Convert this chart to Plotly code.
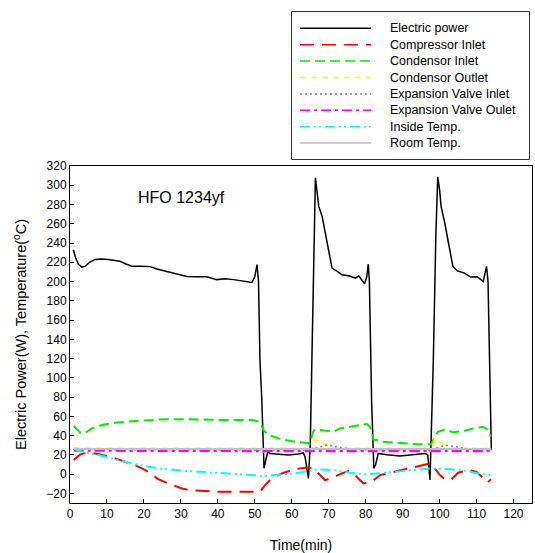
import plotly.graph_objects as go

# ---------------- data ----------------
power_t = [0.9, 1.5, 2.3, 3.2, 4.2, 5.3, 6.8, 8.5, 10.4, 12.0, 13.5, 15.0, 16.7, 19.0, 21.7,
           23.5, 25.5, 27.5, 29.5, 31.6, 34.0, 37.0, 39.7, 42.0, 44.3, 46.0, 47.5, 49.2, 50.0,
           50.6, 51.0, 51.4, 51.9, 52.5, 53.0, 53.5, 54.1, 56.4, 59.1, 61.8, 63.1, 63.6, 64.5,
           65.0, 65.4, 66.0, 66.4, 66.8, 67.3, 68.2, 69.6, 70.9, 72.3, 73.6, 75.4, 77.2, 78.1,
           79.0, 79.7, 80.3, 80.7, 81.0, 81.3, 81.6, 82.2, 82.7, 83.4, 85.7, 89.3, 92.9, 96.0,
           96.8, 97.4, 98.0, 98.3, 99.0, 99.5, 100.0, 100.4, 101.3, 102.5, 103.6, 104.8, 106.6,
           108.4, 110.2, 111.8, 112.4, 112.7, 113.1, 113.6, 114.0]
power_w = [233, 225, 218, 215, 216, 220, 223, 223.5, 223, 222, 221, 218.5, 216, 216, 215.5,
           213, 211, 209, 207, 205.3, 205, 205, 202, 203, 202, 201, 200.5, 199, 205,
           217.5, 200, 118, 77, 6, 15, 23, 21.5, 20.5, 19.8, 20.8, 22, 18, -4.5,
           30, 118, 250, 307.7, 295, 278, 268, 240, 214, 210.5, 207, 206, 203.6, 206,
           202, 197.7, 205, 218, 200, 140, 77, 6, 10, 21.5, 20, 18.7, 20, 21.5,
           20, -6, 77, 118, 250, 308.7, 295, 278, 262.6, 236.5, 215.7, 211, 209,
           204.6, 205, 200, 210, 215.7, 200, 100, 25]

comp_in_t = [1.0, 2.8, 5.0, 7.7, 12.2, 17.6, 20.4, 23.9, 26.6, 30.3, 32.5, 35.7, 40.2, 49.2,
             51.4, 52.8, 54.6, 57.3, 60.0, 62.2, 64.0, 65.8, 66.8, 69.0, 71.2, 73.5, 75.3,
             77.1, 79.4, 81.6, 83.9, 86.6, 89.3, 92.0, 94.2, 96.0, 97.4, 98.7, 100.1, 101.4,
             103.2, 105.0, 107.7, 110.0, 111.8, 113.0, 113.9]
comp_in_v = [14.6, 20.5, 22.6, 20.8, 16.3, 9.4, 4.2, -5.2, -9.7, -14.9, -16.6, -17.3, -18.4, -18.4,
             -18.4, -11.4, -4.5, 0.7, 4.2, 5.9, 6.9, 5.9, 2.4, -6.2, -3.5, 0.7, 3.1,
             -1, -9.7, -8, -1, 1.4, 3.5, 5.9, 7.6, 9.4, 11.1, 5.9, -1, -5.2,
             -5.5, 1.4, 4.2, 2.4, -4.5, -8.7, -5.2]

cond_in_t = [1.0, 2.8, 4.1, 5.9, 8.6, 12.2, 16.8, 21.2, 25.8, 32.5, 40.2, 49.2, 51.4, 52.3,
             53.7, 57.3, 60.9, 64.9, 65.8, 66.3, 67.6, 69.5, 71.2, 73.1, 76.6, 80.3, 81.2,
             82.1, 84.8, 89.3, 94.2, 97.8, 98.7, 99.6, 101.4, 103.7, 106.8, 109.1, 111.8,
             113.1, 113.9]
cond_in_v = [50, 43, 43, 47.5, 51, 53.4, 55, 56.2, 57, 57, 56.2, 56.2, 54.4, 45.8,
             40.6, 36.1, 33.6, 32, 44, 46.5, 46, 45, 44, 47.5, 50, 52, 49,
             36, 33.6, 32.6, 31, 31, 38.8, 44, 46.5, 43.4, 45, 47.5, 49.2,
             45.8, 39]

cond_out_t = [1.0, 10, 30, 50, 51.8, 52.3, 53, 64, 65.0, 65.6, 66.3, 67.7, 69.0, 70.8, 73,
              81, 82, 83, 96, 96.9, 97.8, 98.7, 100.1, 101.4, 103.2, 105, 114]
cond_out_v = [27, 26.5, 26.5, 26.5, 26.5, 24, 27, 26.5, 22, 26, 36, 33.6, 30.2, 27.4, 26.5,
              26.5, 24, 26.5, 26.5, 21.5, 26, 36, 32.6, 30.2, 27.4, 26.5, 26.5]

exv_in_t = [1.0, 51.5, 52.3, 53, 64.5, 65.2, 66.5, 69.5, 72.2, 75, 78, 81.5, 82.2, 83,
            97, 97.8, 99, 101.5, 104.5, 107, 110, 114]
exv_in_v = [25.5, 25, 23, 25, 25, 23, 27, 30.2, 28.4, 26.5, 25.5, 25, 23, 25,
            25, 23, 27, 30, 28.5, 26.5, 25.5, 25]

exv_out_t = [1.0, 30, 60, 90, 114]
exv_out_v = [24.5, 24, 24, 24, 24]

inside_t = [1.0, 3.2, 7.7, 12.2, 16.8, 21.2, 25.8, 31.2, 40.2, 49.2, 51.9, 56.4, 60.9, 64.9,
            66.8, 71.2, 75.7, 80.3, 84.8, 89.3, 94.2, 97.8, 102.3, 106.8, 111.4, 114.0]
inside_v = [26.7, 23.2, 19.8, 15.3, 11.1, 7.6, 5.2, 3.4, 1.4, -1, -2.1, -1, 0.7, 3.5,
            4.9, 4.2, 1.4, -0.3, 1.4, 2.4, 4.2, 5.9, 5.2, 3.5, 0, -1.4]

room_t = [1.0, 114.0]
room_v = [26, 26]

x_ticks = list(range(0, 121, 10))
y_ticks = list(range(-20, 321, 20))

series_names = ["Electric power", "Compressor Inlet", "Condensor Inlet", "Condensor Outlet",
                "Expansion Valve Inlet", "Expansion Valve Oulet", "Inside Temp.", "Room Temp."]

# ---------------- styling ----------------
FONT = "Liberation Sans, Arial, sans-serif"
W, H = 535, 553
L, R, T, B = 70, 3, 166, 50
styles = [
    dict(color="black", width=1.5, dash="solid"),
    dict(color="#ff0000", width=2, dash="14px,8px"),
    dict(color="#00ee00", width=2, dash="10px,5px"),
    dict(color="#ffff00", width=2, dash="6px,5px"),
    dict(color="#7070ff", width=1.5, dash="2px,3px"),
    dict(color="#ff00ff", width=2.5, dash="10px,4px,3px,4px"),
    dict(color="#00ffff", width=2, dash="10px,4px,2px,3px,2px,4px"),
    dict(color="#c0c0c0", width=2, dash="solid"),
]
data = [(power_t, power_w), (comp_in_t, comp_in_v), (cond_in_t, cond_in_v),
        (cond_out_t, cond_out_v), (exv_in_t, exv_in_v), (exv_out_t, exv_out_v),
        (inside_t, inside_v), (room_t, room_v)]

fig = go.Figure()
for name, (xs, ys), st in zip(series_names, data, styles):
    fig.add_trace(go.Scatter(x=xs, y=ys, mode="lines", name=name, line=st, showlegend=False))

pw, ph = W - L - R, H - T - B
def px_x(px):
    return (px - L) / pw
def px_y(py):
    return (H - B - py) / ph

shapes = []
annotations = []
# custom legend box
shapes.append(dict(type="rect", xref="paper", yref="paper",
                   x0=px_x(291.5), x1=px_x(529.5), y0=px_y(159.5), y1=px_y(11.5),
                   line=dict(color="#333333", width=1), fillcolor="white"))
for i, (name, st) in enumerate(zip(series_names, styles)):
    yy = 28.3 + i * 16.4
    shapes.append(dict(type="line", xref="paper", yref="paper",
                       x0=px_x(300), x1=px_x(371), y0=px_y(yy), y1=px_y(yy),
                       line=dict(color=st["color"], width=min(st["width"], 1.5), dash=st["dash"])))
    annotations.append(dict(xref="paper", yref="paper", x=px_x(388), y=px_y(yy),
                            text=name, showarrow=False, xanchor="left", yanchor="middle",
                            font=dict(family=FONT, size=12.5, color="black")))

annotations.append(dict(xref="paper", yref="paper", x=px_x(181), y=px_y(197),
                        text="HFO 1234yf", showarrow=False, xanchor="center", yanchor="middle",
                        font=dict(family=FONT, size=16, color="black")))

fig.update_layout(
    width=W, height=H,
    margin=dict(l=L, r=R, t=T, b=B, autoexpand=False),
    plot_bgcolor="white", paper_bgcolor="white",
    font=dict(family=FONT, size=12, color="black"),
    shapes=shapes, annotations=annotations,
    showlegend=False,
)
fig.update_xaxes(range=[0, 125], tickvals=x_ticks, ticks="inside", ticklen=4, tickcolor="black",
                 showline=True, linecolor="black", linewidth=1, mirror=True, showgrid=False,
                 zeroline=False, tickfont=dict(size=12), automargin=False,
                 title=dict(text="Time(min)", font=dict(size=14), standoff=19))
fig.update_yaxes(range=[-30, 320], tickvals=y_ticks, ticks="inside", ticklen=4, tickcolor="black",
                 showline=True, linecolor="black", linewidth=1, mirror=True, showgrid=False,
                 zeroline=False, tickfont=dict(size=12), automargin=False,
                 title=dict(text="Electric Power(W), Temperature(<sup>o</sup>C)", font=dict(size=14.5),
                            standoff=16))

fig.write_html("out.html",
               config={"displayModeBar": False},
               post_script="document.body.style.margin='0';document.body.style.padding='0';"
                           "document.body.style.overflow='hidden';")
